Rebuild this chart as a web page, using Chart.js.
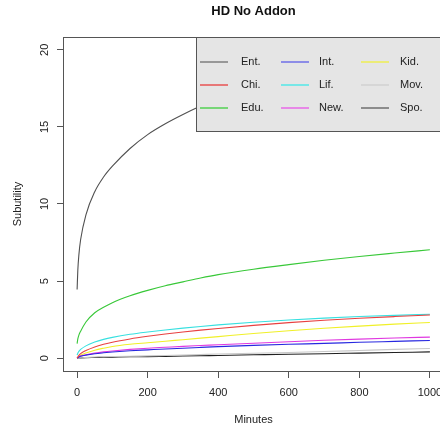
<!DOCTYPE html>
<html>
<head>
<meta charset="utf-8">
<script src="https://cdn.jsdelivr.net/npm/chart.js@4/dist/chart.umd.min.js"></script>
<style>
html,body{margin:0;padding:0;overflow:hidden;background:#fff;width:440px;height:430px;}
#wrap{position:absolute;left:0;top:0;width:460px;height:430px;}
</style>
</head>
<body>
<div id="wrap"><canvas id="c" width="460" height="430"></canvas></div>
<script>
const minutes = [0, 2, 5, 10, 25, 50, 75, 100, 150, 200, 250, 300, 350, 400, 500, 600, 700, 800, 900, 1000];
const seriesNames = ["Ent.", "Chi.", "Edu.", "Int.", "Lif.", "New.", "Kid.", "Mov.", "Spo."];
const ent  = [4.45, 5.7, 6.7, 7.7, 9.3, 10.8, 11.75, 12.45, 13.6, 14.5, 15.2, 15.8, 16.35, 16.85, 17.65, 18.35, 18.95, 19.45, 19.9, 20.3];
const chi  = [0.0, 0.08, 0.18, 0.3, 0.5, 0.73, 0.9, 1.04, 1.25, 1.42, 1.57, 1.7, 1.82, 1.93, 2.13, 2.31, 2.46, 2.59, 2.7, 2.8];
const edu  = [0.95, 1.25, 1.5, 1.75, 2.35, 2.95, 3.3, 3.6, 4.05, 4.4, 4.7, 4.95, 5.2, 5.42, 5.77, 6.07, 6.35, 6.6, 6.82, 7.03];
const intl = [0.0, 0.03, 0.07, 0.12, 0.2, 0.29, 0.35, 0.4, 0.48, 0.54, 0.6, 0.65, 0.7, 0.75, 0.83, 0.9, 0.96, 1.03, 1.09, 1.15];
const lif  = [0.2, 0.32, 0.44, 0.57, 0.8, 1.05, 1.22, 1.35, 1.55, 1.7, 1.83, 1.95, 2.06, 2.16, 2.33, 2.48, 2.6, 2.7, 2.78, 2.85];
const news = [0.0, 0.04, 0.08, 0.14, 0.22, 0.33, 0.41, 0.47, 0.57, 0.65, 0.71, 0.77, 0.82, 0.87, 0.97, 1.07, 1.16, 1.24, 1.31, 1.37];
const kid  = [0.0, 0.05, 0.11, 0.19, 0.34, 0.52, 0.65, 0.76, 0.9, 1.0, 1.1, 1.2, 1.3, 1.4, 1.6, 1.78, 1.94, 2.08, 2.21, 2.32];
const mov  = [0.0, 0.01, 0.02, 0.03, 0.05, 0.08, 0.1, 0.11, 0.13, 0.15, 0.18, 0.21, 0.24, 0.27, 0.32, 0.37, 0.43, 0.5, 0.57, 0.63];
const spo  = [0.0, 0.01, 0.01, 0.02, 0.04, 0.05, 0.06, 0.07, 0.09, 0.1, 0.12, 0.14, 0.16, 0.18, 0.22, 0.26, 0.29, 0.33, 0.37, 0.41];
const xTicks = [0, 200, 400, 600, 800, 1000];
const yTicks = [0, 5, 10, 15, 20];
const colors = ["#505050", "#e84040", "#38c838", "#2828e0", "#38e0e0", "#e038e0", "#f0f028", "#c8c8c8", "#202020"];
const legendColors = ["#777777", "#e84848", "#48d048", "#6868e8", "#48e8e8", "#e860e8", "#f0f048", "#d0d0d0", "#666666"];
const allData = [ent, chi, edu, intl, lif, news, kid, mov, spo];

const FONT = "'Liberation Sans', Arial, Helvetica, sans-serif";

const datasets = allData.map((arr, i) => ({
  label: seriesNames[i],
  data: minutes.map((m, j) => ({x: m, y: arr[j]})),
  borderColor: colors[i],
  borderWidth: 1.1,
  pointRadius: 0,
  fill: false,
  cubicInterpolationMode: 'monotone'
}));

const customDraw = {
  id: 'customDraw',
  afterDatasetsDraw(chart) {
    const ctx = chart.ctx;
    const a = chart.chartArea;
    const ys = chart.scales.y;
    ctx.save();
    // legend box
    const lx = 196, ly = Math.round(a.top), lw = 260, lh = 94;
    ctx.fillStyle = '#e5e5e5';
    ctx.fillRect(lx, ly, lw, lh);
    ctx.strokeStyle = '#555';
    ctx.lineWidth = 1;
    ctx.strokeRect(lx + 0.5, ly + 0.5, lw, lh);
    const cols = [[200, 241], [281, 319], [361, 400]];
    const rows = [62, 85, 108];
    const order = [[0,1,2],[3,4,5],[6,7,8]];
    ctx.font = '11px ' + FONT;
    ctx.textBaseline = 'middle';
    ctx.textAlign = 'left';
    for (let c = 0; c < 3; c++) {
      for (let r = 0; r < 3; r++) {
        const idx = order[c][r];
        ctx.strokeStyle = legendColors[idx];
        ctx.lineWidth = 1.4;
        ctx.beginPath();
        ctx.moveTo(cols[c][0], rows[r]);
        ctx.lineTo(cols[c][0] + 28, rows[r]);
        ctx.stroke();
        ctx.fillStyle = '#222';
        ctx.fillText(seriesNames[idx], cols[c][1], rows[r]);
      }
    }
    // box around plot
    ctx.strokeStyle = '#555';
    ctx.lineWidth = 1;
    ctx.strokeRect(Math.round(a.left) + 0.5, Math.round(a.top) + 0.5, Math.round(a.right - a.left), Math.round(a.bottom - a.top));
    // y tick labels rotated
    ctx.fillStyle = '#222';
    ctx.font = '11px ' + FONT;
    ctx.textAlign = 'center';
    ctx.textBaseline = 'middle';
    yTicks.forEach(v => {
      const py = ys.getPixelForValue(v);
      ctx.save();
      ctx.translate(45, py);
      ctx.rotate(-Math.PI / 2);
      ctx.fillText(String(v), 0, 0);
      ctx.restore();
    });
    // axis titles
    ctx.fillText('Minutes', (a.left + a.right) / 2, 420);
    ctx.save();
    ctx.translate(18, (a.top + a.bottom) / 2);
    ctx.rotate(-Math.PI / 2);
    ctx.fillText('Subutility', 0, 0);
    ctx.restore();
    // main title
    ctx.font = 'bold 13px ' + FONT;
    ctx.fillStyle = '#111';
    ctx.fillText('HD No Addon', (a.left + a.right) / 2, 11);
    ctx.restore();
  }
};

new Chart(document.getElementById('c'), {
  type: 'line',
  data: { datasets },
  options: {
    responsive: false,
    animation: false,
    events: [],
    layout: { padding: { left: 0, right: 16, top: 37, bottom: 0 } },
    plugins: { legend: { display: false }, title: { display: false }, tooltip: { enabled: false } },
    scales: {
      x: {
        type: 'linear',
        min: -40, max: 1040,
        afterBuildTicks(s) { s.ticks = xTicks.map(v => ({value: v})); },
        afterFit(s) { s.height = 59; },
        border: { display: false },
        grid: { drawOnChartArea: false, drawTicks: true, tickLength: 7, color: '#555', lineWidth: 1 },
        ticks: { color: '#222', font: { family: FONT, size: 11 }, padding: 8, maxRotation: 0, autoSkip: false,
                 callback: (v) => String(v) }
      },
      y: {
        type: 'linear',
        min: -0.83, max: 20.83,
        afterBuildTicks(s) { s.ticks = yTicks.map(v => ({value: v})); },
        afterFit(s) { s.width = 63; },
        border: { display: false },
        grid: { drawOnChartArea: false, drawTicks: true, tickLength: 6, color: '#555', lineWidth: 1 },
        ticks: { display: true, color: 'rgba(0,0,0,0)', font: { family: FONT, size: 11 } }
      }
    }
  },
  plugins: [customDraw]
});
</script>
</body>
</html>
